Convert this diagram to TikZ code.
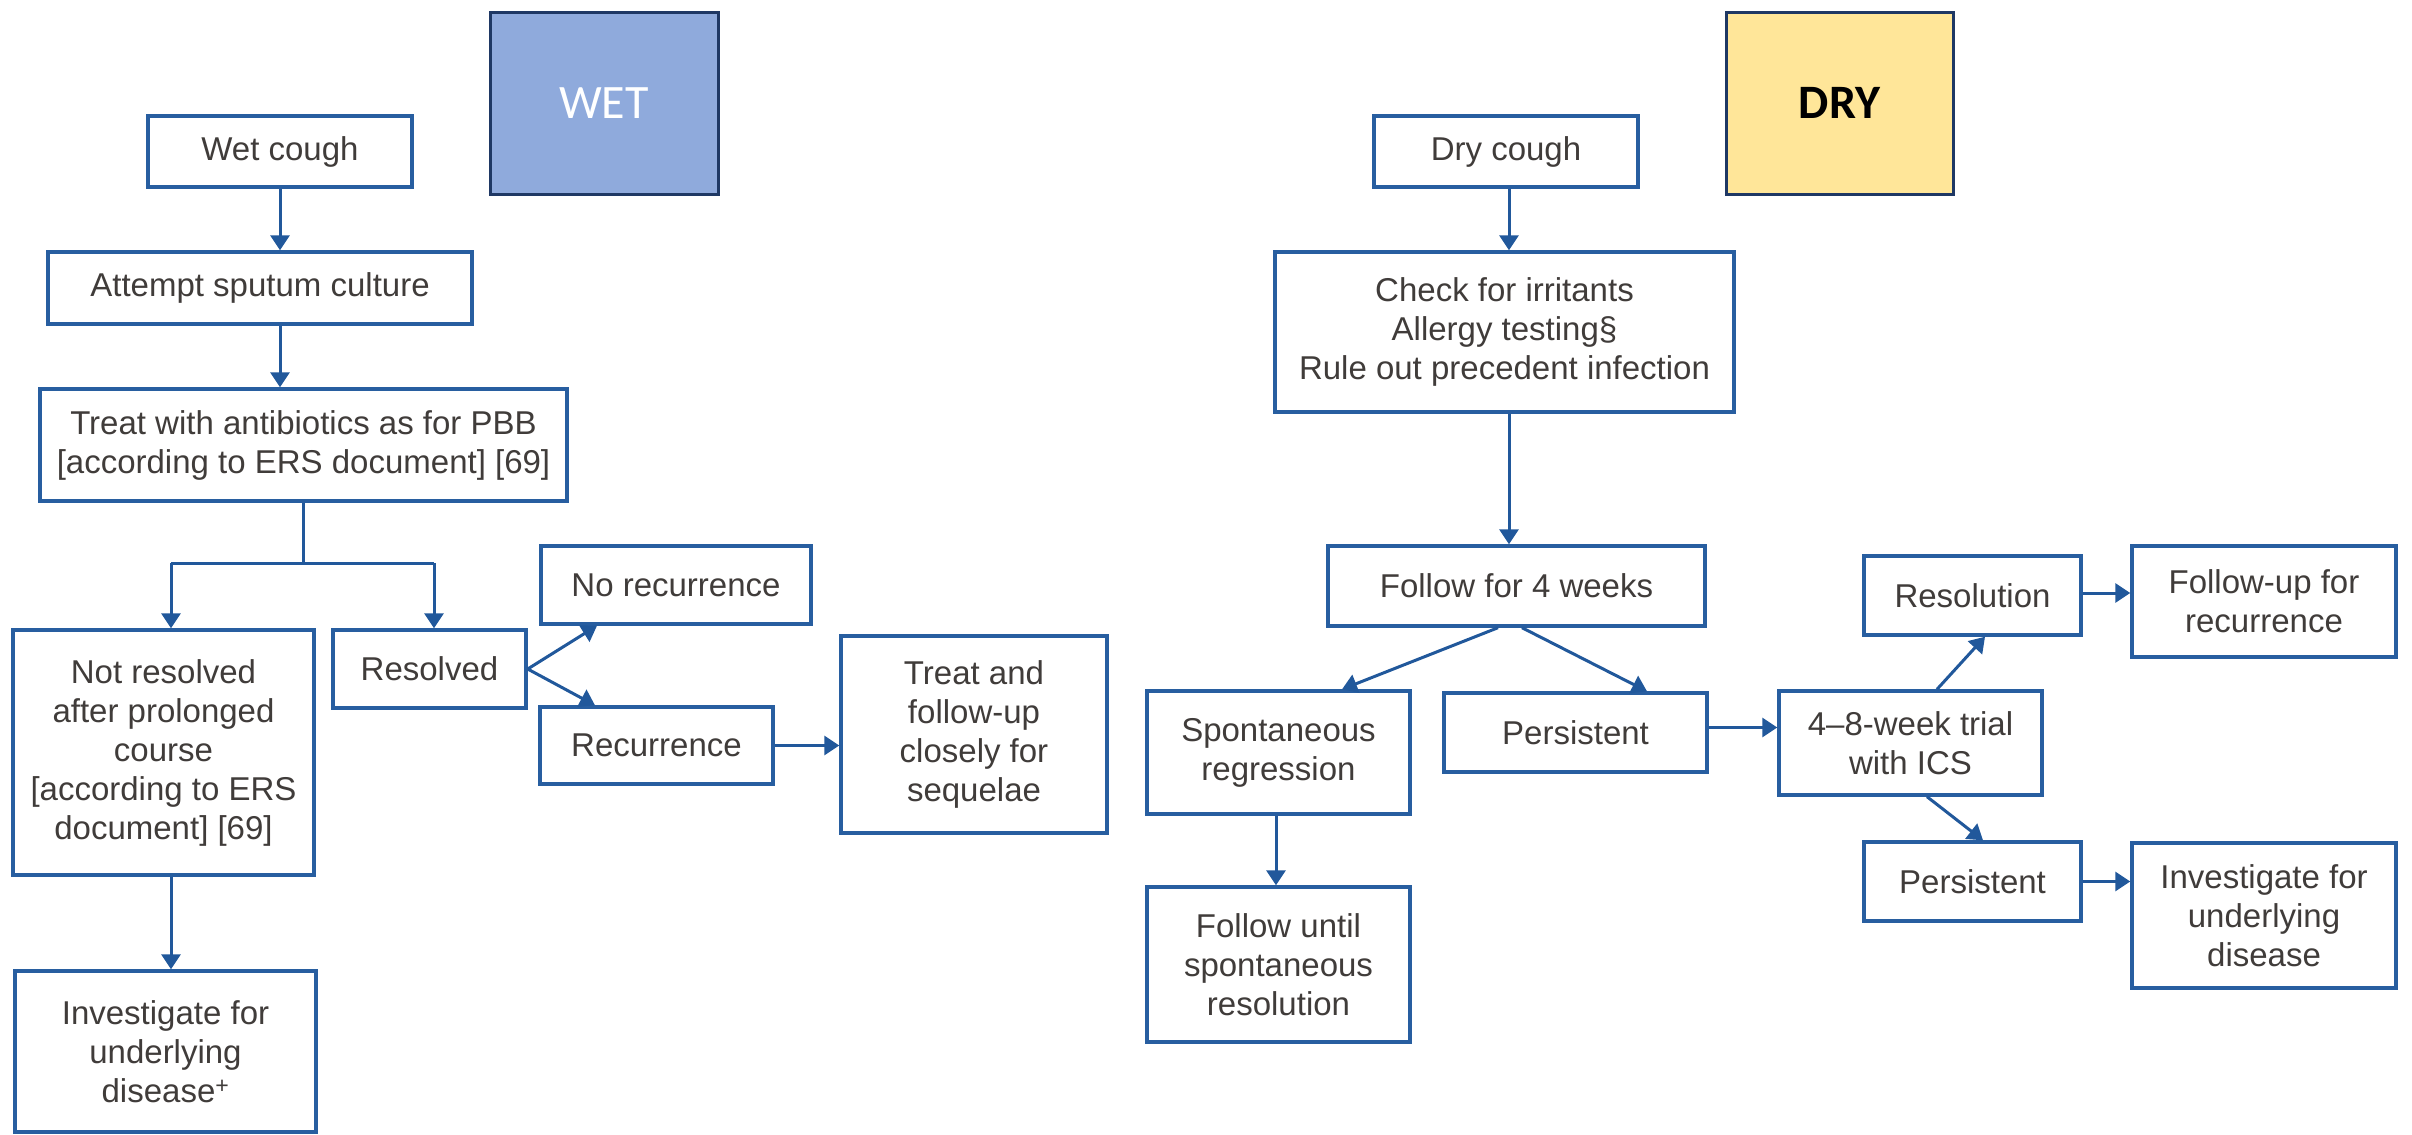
\documentclass[tikz,border=0pt]{standalone}
\usepackage{fontspec}
\setmainfont{Liberation Sans}
\newfontfamily\carlito{Carlito}
\usetikzlibrary{arrows.meta}
\definecolor{boxblue}{RGB}{40,94,160}
\definecolor{lineblue}{RGB}{33,88,155}
\definecolor{txtgray}{RGB}{64,60,58}
\definecolor{wetfill}{RGB}{143,170,220}
\definecolor{dryfill}{RGB}{255,230,153}
\definecolor{navy}{RGB}{31,56,100}
\tikzset{
  box/.style={draw=boxblue, line width=3.4pt, fill=white, inner sep=0pt, align=center,
    text=txtgray, font={\fontsize{33}{39}\selectfont}},
  tag/.style={draw=navy, line width=3pt, inner sep=0pt, align=center,
    font={\carlito\fontsize{48}{52}\selectfont}},
  arr/.style={-{Triangle[width=19pt,length=15pt]}, line width=3pt, draw=lineblue},
  ln/.style={line width=3pt, draw=lineblue}
}
\begin{document}
\begin{tikzpicture}[x=1pt,y=-1pt]
\useasboundingbox (0,0) rectangle (2412,1135);
% ---- WET side ----
\node[tag, fill=wetfill, text=white, minimum width=228pt, minimum height=182pt] (wettag) at (604,103) {WET};
\node[box, minimum width=264pt, minimum height=71pt] (wet) at (280,151.5) {Wet cough};
\node[box, minimum width=424pt, minimum height=72pt] (sput) at (260,288) {Attempt sputum culture};
\node[box, minimum width=527pt, minimum height=112pt] (treat) at (303.5,445) {Treat with antibiotics as for PBB\\{[}according to ERS document{]} {[}69{]}};
\node[box, minimum width=301pt, minimum height=245pt] (notres) at (163.5,752.5) {Not resolved\\after prolonged\\course\\{[}according to ERS\\document{]} {[}69{]}};
\node[box, minimum width=193pt, minimum height=78pt] (resolved) at (429.5,669) {Resolved};
\node[box, minimum width=270pt, minimum height=78pt] (norec) at (676,585) {No recurrence};
\node[box, minimum width=233pt, minimum height=77pt] (rec) at (656.5,745.5) {Recurrence};
\node[box, minimum width=266pt, minimum height=197pt] (tfu) at (974,734.5) {Treat and\\follow-up\\closely for\\sequelae};
\node[box, minimum width=301pt, minimum height=161pt] (inv1) at (165.5,1051.5) {Investigate for\\underlying\\disease\textsuperscript{+}};
\coordinate (bl) at (171,563);
\coordinate (bm) at (303.5,563);
\coordinate (bR) at (434,563);
\draw[arr] (wet.south) -- (wet.south |- sput.north);
\draw[arr] (wet.south |- sput.south) -- (wet.south |- treat.north);
\draw[ln] (treat.south) -- (bm);
\draw[ln] (bl) -- (bR);
\draw[arr] (bl) -- (bl |- notres.north);
\draw[arr] (bR) -- (bR |- resolved.north);
\draw[arr] (resolved.east) -- ([xshift=-79pt]norec.south);
\draw[arr] (resolved.east) -- ([xshift=-61.5pt]rec.north);
\draw[arr] (rec.east) -- (rec.east -| tfu.west);
\draw[arr] (bl |- notres.south) -- (bl |- inv1.north);
% ---- DRY side ----
\node[tag, fill=dryfill, text=black, font={\carlito\bfseries\fontsize{48}{52}\selectfont}, minimum width=227pt, minimum height=182pt] (drytag) at (1839.5,103) {DRY};
\node[box, minimum width=264pt, minimum height=71pt] (dry) at (1506,151.5) {Dry cough};
\node[box, minimum width=459pt, minimum height=160pt] (check) at (1504.5,332) {Check for irritants\\Allergy testing§\\Rule out precedent infection};
\node[box, minimum width=377pt, minimum height=80pt] (follow) at (1516.5,586) {Follow for 4 weeks};
\node[box, minimum width=263pt, minimum height=123pt] (spont) at (1278.5,752.5) {Spontaneous\\regression};
\node[box, minimum width=263pt, minimum height=79pt] (pers1) at (1575.5,732.5) {Persistent};
\node[box, minimum width=263pt, minimum height=155pt] (funtil) at (1278.5,964.5) {Follow until\\spontaneous\\resolution};
\node[box, minimum width=263pt, minimum height=104pt] (trial) at (1910.5,743) {4–8-week trial\\with ICS};
\node[box, minimum width=217pt, minimum height=79pt] (resol) at (1972.5,595.5) {Resolution};
\node[box, minimum width=264pt, minimum height=111pt] (fur) at (2264,601.5) {Follow-up for\\recurrence};
\node[box, minimum width=217pt, minimum height=79pt] (pers2) at (1972.5,881.5) {Persistent};
\node[box, minimum width=264pt, minimum height=145pt] (inv2) at (2264,915.5) {Investigate for\\underlying\\disease};
\draw[arr] ([xshift=3pt]dry.south) -- ([xshift=3pt]dry.south |- check.north);
\draw[arr] ([xshift=3pt]dry.south |- check.south) -- ([xshift=3pt]dry.south |- follow.north);
\draw[arr] ([xshift=-18.5pt]follow.south) -- ([xshift=63.5pt]spont.north);
\draw[arr] ([xshift=5.5pt]follow.south) -- ([xshift=71.5pt]pers1.north);
\draw[arr] ([xshift=-2.5pt]spont.south) -- ([xshift=-2.5pt]funtil.north);
\draw[arr] ([yshift=5pt]pers1.east) -- ([yshift=5pt]pers1.east -| trial.west);
\draw[arr] ([xshift=26.5pt]trial.north) -- ([xshift=12.5pt]resol.south);
\draw[arr] ([xshift=16.5pt]trial.south) -- ([xshift=10.5pt]pers2.north);
\draw[arr] ([yshift=2.5pt]resol.east) -- ([yshift=2.5pt]resol.east -| fur.west);
\draw[arr] (pers2.east) -- (pers2.east -| inv2.west);
\end{tikzpicture}
\end{document}
